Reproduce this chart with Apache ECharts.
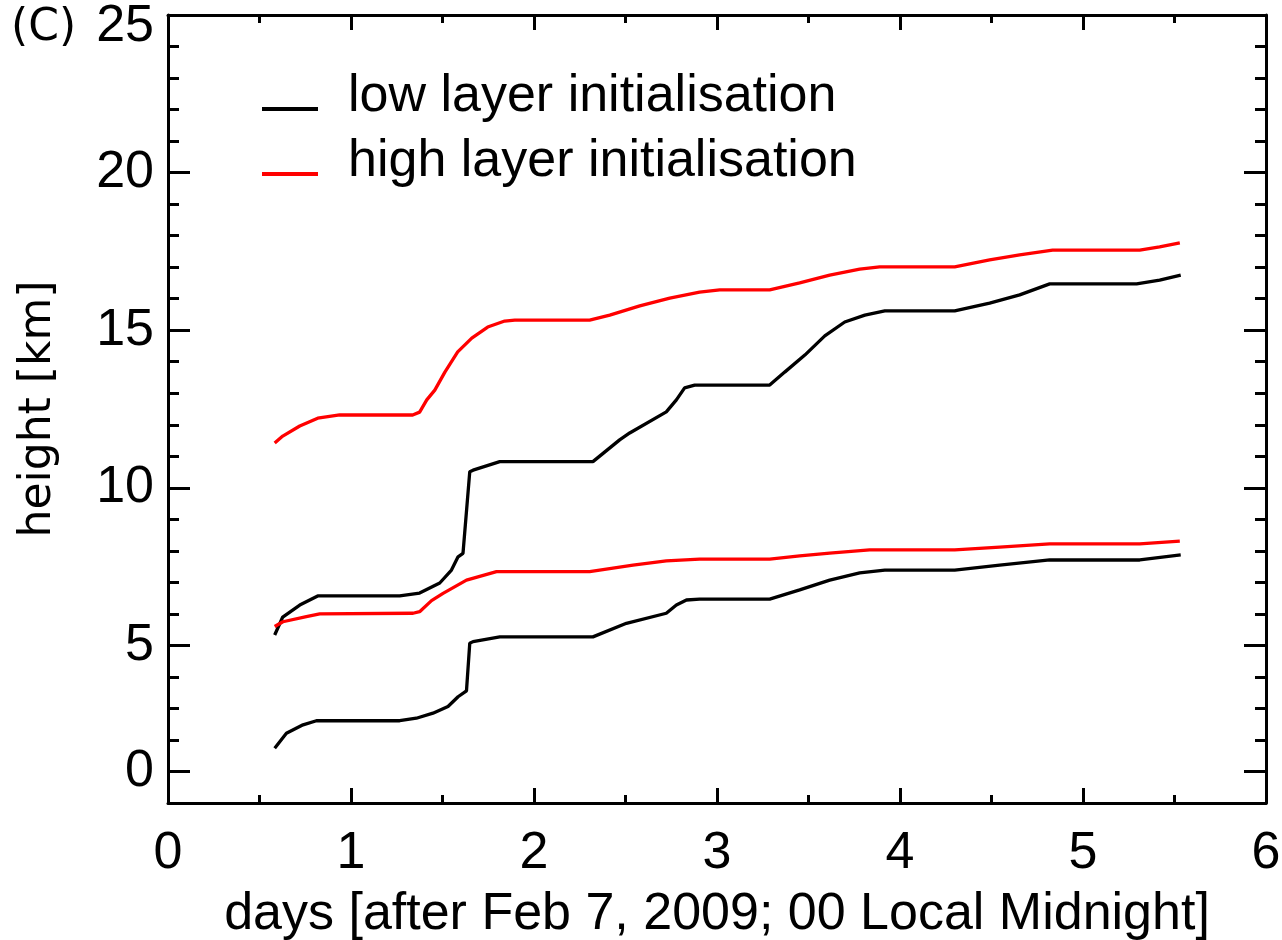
<!DOCTYPE html>
<html>
<head>
<meta charset="utf-8">
<script src="https://cdn.jsdelivr.net/npm/echarts@6/dist/echarts.min.js"></script>
<style>
  html, body { margin: 0; padding: 0; background: #fff; }
  #chart { width: 1282px; height: 940px; }
</style>
</head>
<body>
<div id="chart"></div>
<script>
// Layer top heights (km) against time (days after Feb 7, 2009, 00 local midnight)

// low layer initialisation, upper curve
const lowUpperX = [0.583, 0.627, 0.720, 0.818, 1.266, 1.375, 1.485, 1.549, 1.585, 1.612, 1.649, 1.667, 1.813, 2.322, 2.468, 2.523, 2.723, 2.778, 2.823, 2.878, 3.288, 3.370, 3.480, 3.589, 3.698, 3.808, 3.917, 4.299, 4.490, 4.654, 4.818, 5.293, 5.419, 5.534];
const lowUpperY = [5.33, 5.90, 6.28, 6.57, 6.57, 6.66, 6.98, 7.39, 7.81, 7.92, 10.51, 10.56, 10.83, 10.83, 11.52, 11.74, 12.41, 12.79, 13.17, 13.26, 13.26, 13.67, 14.21, 14.82, 15.26, 15.48, 15.61, 15.61, 15.86, 16.12, 16.47, 16.47, 16.59, 16.75];

// low layer initialisation, lower curve
const lowLowerX = [0.583, 0.647, 0.738, 0.811, 1.266, 1.357, 1.448, 1.530, 1.585, 1.631, 1.649, 1.667, 1.813, 2.322, 2.505, 2.723, 2.778, 2.833, 2.905, 3.288, 3.452, 3.616, 3.780, 3.917, 4.299, 4.545, 4.818, 5.310, 5.534];
const lowLowerY = [1.74, 2.21, 2.48, 2.61, 2.61, 2.69, 2.85, 3.06, 3.37, 3.56, 5.07, 5.12, 5.27, 5.27, 5.70, 6.02, 6.28, 6.44, 6.47, 6.47, 6.76, 7.07, 7.30, 7.39, 7.39, 7.55, 7.71, 7.71, 7.87];

// high layer initialisation, upper curve
const highUpperX = [0.583, 0.627, 0.720, 0.818, 0.938, 1.337, 1.375, 1.414, 1.458, 1.513, 1.583, 1.660, 1.747, 1.840, 1.895, 2.304, 2.414, 2.578, 2.742, 2.905, 3.015, 3.288, 3.452, 3.616, 3.780, 3.889, 4.299, 4.490, 4.654, 4.834, 5.310, 5.419, 5.529];
const highUpperY = [11.42, 11.64, 11.96, 12.21, 12.31, 12.31, 12.40, 12.79, 13.10, 13.67, 14.31, 14.75, 15.10, 15.29, 15.32, 15.32, 15.48, 15.77, 16.02, 16.21, 16.28, 16.28, 16.50, 16.75, 16.94, 17.01, 17.01, 17.23, 17.39, 17.54, 17.54, 17.64, 17.77];

// high layer initialisation, lower curve
const highLowerX = [0.583, 0.628, 0.756, 0.829, 1.339, 1.375, 1.440, 1.503, 1.631, 1.795, 2.304, 2.541, 2.723, 2.905, 3.288, 3.452, 3.616, 3.834, 4.299, 4.545, 4.818, 5.310, 5.529];
const highLowerY = [5.60, 5.75, 5.91, 6.00, 6.02, 6.07, 6.42, 6.65, 7.07, 7.34, 7.34, 7.55, 7.68, 7.74, 7.74, 7.84, 7.93, 8.03, 8.03, 8.12, 8.22, 8.22, 8.31];

// y-axis tick positions and their printed labels
const yTickValues = [1, 5, 10, 15, 20, 25];
const yTickLabels = ['0', '5', '10', '15', '20', '25'];

const seriesNames = ['low layer initialisation', 'high layer initialisation'];
const seriesColors = ['#000000', '#ff0000'];

const SANS = '"Liberation Sans", Arial, Helvetica, sans-serif';
const DEJAVU = '"DejaVu Sans", sans-serif';

function pairs(xs, ys) {
  return xs.map((x, i) => [x, ys[i]]);
}

function lineSeries(name, color, xs, ys) {
  return {
    name: name,
    type: 'line',
    data: pairs(xs, ys),
    symbol: 'none',
    smooth: false,
    lineStyle: { color: color, width: 3.3 },
    itemStyle: { color: color },
    z: 3
  };
}

const axisLineStyle = { show: true, onZero: false, lineStyle: { color: '#000', width: 3 } };

function xAxisCfg(position, showLabels, name) {
  return {
    type: 'value',
    position: position,
    min: 0, max: 6, interval: 1,
    axisLine: axisLineStyle,
    axisTick: { show: true, inside: true, length: 15, lineStyle: { color: '#000', width: 3 } },
    minorTick: { show: true, splitNumber: 2, length: 8, lineStyle: { color: '#000', width: 3 } },
    splitLine: { show: false },
    minorSplitLine: { show: false },
    axisLabel: {
      show: showLabels, color: '#000', fontFamily: SANS, fontSize: 52, margin: 25
    },
    name: name,
    nameLocation: 'middle',
    nameGap: 86,
    nameTextStyle: { color: '#000', fontFamily: SANS, fontSize: 52 }
  };
}

function yAxisCfg(position, showLabels, name) {
  return {
    type: 'value',
    position: position,
    min: 0, max: 25, interval: 5,
    axisLine: axisLineStyle,
    axisTick: {
      show: true, inside: true, length: 22, customValues: yTickValues,
      lineStyle: { color: '#000', width: 3 }
    },
    minorTick: { show: true, splitNumber: 5, length: 11, lineStyle: { color: '#000', width: 3 } },
    splitLine: { show: false },
    minorSplitLine: { show: false },
    axisLabel: {
      show: showLabels,
      customValues: yTickValues,
      color: '#000', fontFamily: SANS, fontSize: 52, margin: 14,
      formatter: function (v) {
        const i = yTickValues.indexOf(v);
        const t = i >= 0 ? yTickLabels[i] : '';
        return v === 25 ? '{top|' + t + '}' : t;
      },
      rich: {
        top: { color: '#000', fontFamily: SANS, fontSize: 52, padding: [24, 0, 0, 0] }
      }
    },
    name: name,
    nameLocation: 'middle',
    nameGap: 107,
    nameRotate: 90,
    nameTextStyle: { color: '#000', fontFamily: DEJAVU, fontSize: 44 }
  };
}

const chart = echarts.init(document.getElementById('chart'), null, { renderer: 'canvas' });

chart.setOption({
  backgroundColor: '#ffffff',
  animation: false,
  title: {
    text: '(C)',
    left: 6,
    top: 2,
    textStyle: { color: '#000', fontFamily: DEJAVU, fontSize: 44, fontWeight: 'normal' }
  },
  legend: {
    data: seriesNames,
    orient: 'vertical',
    left: 257,
    top: 66,
    itemWidth: 56,
    itemHeight: 4,
    itemGap: 13,
    icon: 'rect',
    formatter: '{t|{name}}',
    textStyle: {
      color: '#000', fontFamily: SANS, fontSize: 52,
      rich: {
        t: { color: '#000', fontFamily: SANS, fontSize: 52, padding: [0, 0, 24, 25] }
      }
    }
  },
  grid: { left: 168, right: 16, top: 15, bottom: 137, outerBoundsMode: 'none' },
  xAxis: [
    xAxisCfg('bottom', true, 'days [after Feb 7, 2009; 00 Local Midnight]'),
    xAxisCfg('top', false, '')
  ],
  yAxis: [
    yAxisCfg('left', true, 'height [km]'),
    yAxisCfg('right', false, '')
  ],
  series: [
    lineSeries(seriesNames[0], seriesColors[0], lowUpperX, lowUpperY),
    lineSeries(seriesNames[0], seriesColors[0], lowLowerX, lowLowerY),
    lineSeries(seriesNames[1], seriesColors[1], highUpperX, highUpperY),
    lineSeries(seriesNames[1], seriesColors[1], highLowerX, highLowerY)
  ]
});
</script>
</body>
</html>
